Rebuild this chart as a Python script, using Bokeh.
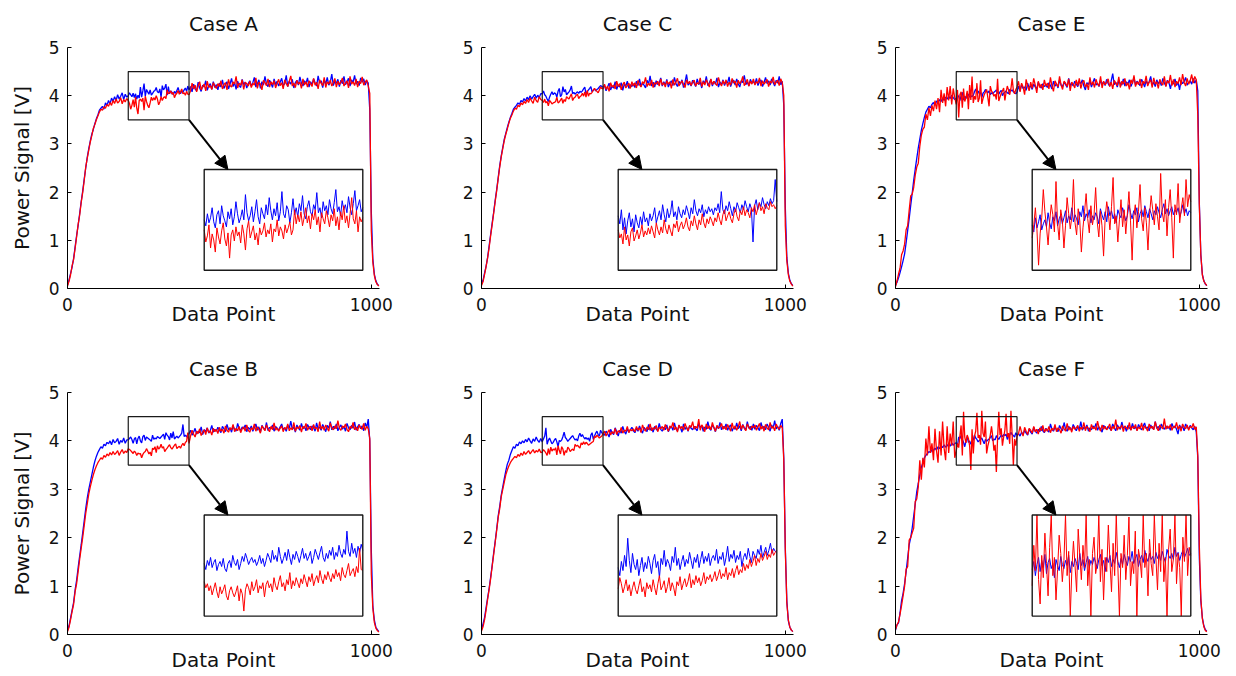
import numpy as np
from bokeh.plotting import figure
from bokeh.models import Range1d, FixedTicker, Arrow, NormalHead, BoxAnnotation
from bokeh.layouts import column, row
from bokeh.embed import file_html
from bokeh.resources import INLINE

# ---------------- data ----------------
# sample index: every 5th point, every 2nd point inside the zoomed window 200..400
data_point = list(range(0, 200, 5)) + list(range(200, 401, 2)) + list(range(405, 1026, 5))
x_ticks = [0, 1000]
y_ticks = [0, 1, 2, 3, 4, 5]
titles = ["Case A", "Case C", "Case E", "Case B", "Case D", "Case F"]

# ---- Case A ----
A_blue = [0.07, 0.18, 0.31, 0.44, 0.62, 0.86, 1.1, 1.31, 1.55, 1.8, 2.02, 2.27, 2.5, 2.72, 2.9, 3.06, 3.2, 3.3, 3.42, 3.52,
          3.6, 3.7, 3.74, 3.78, 3.72, 3.85, 3.8, 3.9, 3.83, 3.95, 3.88, 3.98, 3.9, 4.02, 3.93, 3.99, 4.06, 3.92, 4.03, 3.97,
          4.0, 3.94, 4.06, 3.97, 4.02, 4.12, 3.98, 3.92, 4.05, 4.09, 3.96, 4.14, 4.04, 3.99, 3.93, 4.08, 4.01, 4.11, 3.95, 4.03,
          4.18, 4.06, 3.97, 4.02, 4.1, 4.0, 4.25, 4.07, 3.99, 4.04, 4.13, 3.98, 4.08, 4.2, 4.03, 3.96, 4.12, 4.06, 4.01, 4.15,
          4.05, 4.22, 4.09, 4.0, 4.11, 4.04, 4.17, 3.99, 4.08, 4.28, 4.06, 4.02, 4.14, 4.1, 3.97, 4.07, 4.21, 4.05, 4.12, 4.03,
          4.16, 4.09, 4.24, 4.06, 4.01, 4.13, 4.19, 4.08, 4.04, 4.15, 4.1, 4.27, 4.07, 4.12, 4.02, 4.18, 4.09, 4.14, 4.05, 4.2,
          4.11, 4.06, 4.17, 4.3, 4.08, 4.13, 4.04, 4.19, 4.1, 4.15, 4.07, 4.23, 4.12, 4.05, 4.16, 4.29, 4.09, 4.14, 4.2, 4.08,
          4.12,
          4.19, 4.08, 4.24, 4.14, 4.1, 4.28, 4.16, 4.09, 4.22, 4.18, 4.31, 4.11, 4.2, 4.25, 4.13, 4.29, 4.17, 4.23, 4.12,
          4.26, 4.18, 4.33, 4.15, 4.22, 4.29, 4.14, 4.24, 4.36, 4.19, 4.27, 4.13, 4.3, 4.21, 4.17, 4.34, 4.23, 4.28, 4.16, 4.25,
          4.31, 4.2, 4.27, 4.38, 4.18, 4.25, 4.33, 4.15, 4.29, 4.22, 4.4, 4.24, 4.19, 4.32, 4.26, 4.17, 4.35, 4.23, 4.3, 4.2,
          4.28, 4.36, 4.21, 4.25, 4.42, 4.19, 4.3, 4.24, 4.34, 4.16, 4.27, 4.32, 4.22, 4.39, 4.26, 4.2, 4.31, 4.25, 4.37, 4.18,
          4.29, 4.23, 4.35, 4.27, 4.2, 4.41, 4.26, 4.31, 4.17, 4.33, 4.24, 4.38, 4.22, 4.28, 4.45, 4.21, 4.3, 4.26, 4.34, 4.19,
          4.32, 4.25, 4.4, 4.23, 4.29, 4.36, 4.2, 4.33, 4.27, 4.42, 4.24, 4.3, 4.21, 4.37, 4.28, 4.35, 4.22, 4.31, 4.26, 3.7,
          1.6, 0.62, 0.3, 0.16, 0.09, 0.06]
A_red = [0.05, 0.15, 0.28, 0.47, 0.6, 0.83, 1.07, 1.33, 1.52, 1.78, 1.99, 2.24, 2.52, 2.7, 2.87, 3.04, 3.17, 3.32, 3.4, 3.5,
         3.58, 3.66, 3.72, 3.7, 3.77, 3.74, 3.82, 3.78, 3.86, 3.8, 3.9, 3.84, 3.93, 3.85, 3.88, 3.96, 3.83, 3.92, 3.87, 3.94,
         3.9, 3.78, 3.84, 3.95, 3.72, 3.86, 3.8, 3.68, 3.92, 3.83, 3.76, 3.89, 3.97, 3.81, 3.74, 3.87, 3.62, 3.85, 3.9, 3.79,
         3.93, 3.84, 3.88, 3.77, 3.95, 3.86, 3.7, 3.91, 3.99, 3.82, 3.88, 3.94, 3.8, 3.87, 3.75, 3.92, 3.85, 3.89, 3.97, 3.83,
         3.9, 3.86, 3.96, 3.78, 3.91, 3.88, 4.0, 3.84, 3.93, 3.89, 3.81, 3.95, 3.87, 3.92, 3.98, 3.85, 3.9, 4.1, 3.96, 4.05,
         3.98, 4.08, 3.94, 4.02, 4.12, 3.97, 4.04, 3.91, 4.06, 4.0, 4.1, 3.95, 4.03, 3.88, 4.07, 4.01, 3.96, 4.09, 4.02, 3.93,
         4.05, 3.99, 4.11, 3.94, 4.03, 3.9, 4.08, 4.0, 4.14, 3.97, 4.04, 3.92, 4.06, 4.22, 4.01, 3.96, 4.09, 3.88, 4.03, 3.98,
         4.02,
         4.1, 4.26, 4.14, 4.22, 4.08, 4.2, 4.29, 4.12, 4.19, 4.24, 4.1, 4.3, 4.17, 4.21, 4.13, 4.27, 4.2, 4.15, 4.25,
         4.19, 4.31, 4.14, 4.23, 4.27, 4.12, 4.34, 4.21, 4.18, 4.29, 4.24, 4.4, 4.16, 4.26, 4.22, 4.33, 4.13, 4.28, 4.25, 4.2,
         4.3, 4.17, 4.26, 4.22, 4.37, 4.15, 4.28, 4.24, 4.12, 4.32, 4.27, 4.21, 4.35, 4.18, 4.29, 4.23, 4.31, 4.16, 4.26, 4.34,
         4.21, 4.27, 4.14, 4.33, 4.25, 4.19, 4.3, 4.41, 4.2, 4.26, 4.17, 4.32, 4.24, 4.28, 4.15, 4.35, 4.22, 4.29, 4.18, 4.31,
         4.25, 4.19, 4.36, 4.22, 4.28, 4.14, 4.33, 4.26, 4.21, 4.38, 4.17, 4.29, 4.24, 4.32, 4.2, 4.27, 4.36, 4.18, 4.3, 4.23,
         4.28, 4.37, 4.2, 4.26, 4.31, 4.16, 4.4, 4.24, 4.29, 4.21, 4.35, 4.18, 4.3, 4.25, 4.39, 4.22, 4.28, 4.33, 4.2, 4.05,
         1.2, 0.55, 0.27, 0.14, 0.08, 0.05]

# ---- Case C ----
C_blue = [0.09, 0.17, 0.32, 0.46, 0.64, 0.88, 1.12, 1.35, 1.58, 1.83, 2.05, 2.3, 2.55, 2.75, 2.93, 3.1, 3.22, 3.34, 3.45, 3.55,
          3.63, 3.72, 3.76, 3.8, 3.85, 3.82, 3.9, 3.87, 3.94, 3.89, 3.97, 3.92, 4.0, 3.93, 3.98, 4.03, 3.95, 4.01, 3.96, 4.04,
          4.04, 3.96, 4.1, 3.9, 4.02, 3.86, 3.99, 4.07, 3.93, 4.01, 3.88, 4.05, 3.97, 3.92, 4.03, 3.95, 4.08, 3.98, 4.02, 3.94,
          4.06, 3.99, 4.04, 4.12, 3.97, 4.03, 4.09, 4.0, 4.15, 4.05, 3.98, 4.11, 4.02, 4.07, 4.19, 4.03, 4.08, 4.0, 4.13, 4.06,
          4.02, 4.1, 4.05, 4.14, 4.08, 4.01, 4.12, 4.06, 4.2, 4.09, 4.04, 4.11, 4.07, 4.15, 4.03, 4.1, 4.06, 4.13, 4.08, 4.11,
          4.05, 4.12, 4.09, 4.16, 4.07, 4.28, 4.1, 4.06, 4.14, 4.09, 4.18, 4.11, 4.04, 4.13, 4.08, 4.17, 4.12, 4.07, 4.15, 4.1,
          4.19, 4.13, 4.08, 4.16, 4.11, 3.78, 4.14, 4.2, 4.1, 4.17, 4.13, 4.22, 4.15, 4.11, 4.18, 4.14, 4.21, 4.16, 4.19, 4.4,
          4.18,
          4.21, 4.1, 4.18, 4.26, 4.12, 4.2, 4.16, 4.29, 4.13, 4.22, 4.18, 4.27, 4.11, 4.24, 4.2, 4.3, 4.15, 4.23, 4.19,
          4.25, 4.17, 4.3, 4.21, 4.35, 4.19, 4.26, 4.22, 4.16, 4.32, 4.24, 4.41, 4.2, 4.28, 4.18, 4.31, 4.23, 4.27, 4.37, 4.2,
          4.29, 4.22, 4.34, 4.18, 4.26, 4.31, 4.21, 4.38, 4.25, 4.19, 4.3, 4.24, 4.33, 4.17, 4.28, 4.44, 4.22, 4.27, 4.2, 4.32,
          4.26, 4.19, 4.35, 4.23, 4.29, 4.16, 4.31, 4.25, 4.4, 4.21, 4.27, 4.34, 4.2, 4.3, 4.24, 4.37, 4.18, 4.28, 4.23, 4.33,
          4.21, 4.3, 4.26, 4.39, 4.19, 4.28, 4.32, 4.22, 4.35, 4.25, 4.18, 4.31, 4.27, 4.42, 4.23, 4.29, 4.2, 4.34, 4.26, 4.3,
          4.24, 4.36, 4.21, 4.29, 4.33, 4.19, 4.27, 4.38, 4.25, 4.31, 4.22, 4.35, 4.28, 4.2, 4.32, 4.26, 4.4, 4.23, 4.3, 3.8,
          1.7, 0.65, 0.32, 0.17, 0.1, 0.06]
C_red = [0.06, 0.14, 0.29, 0.45, 0.63, 0.84, 1.09, 1.32, 1.56, 1.8, 2.03, 2.28, 2.52, 2.73, 2.9, 3.07, 3.2, 3.31, 3.43, 3.53,
         3.6, 3.68, 3.74, 3.72, 3.8, 3.77, 3.85, 3.81, 3.88, 3.84, 3.92, 3.86, 3.95, 3.89, 3.84, 3.97, 3.9, 3.86, 3.98, 3.92,
         3.9, 3.82, 3.86, 3.76, 3.93, 3.8, 3.85, 3.74, 3.88, 3.92, 3.79, 3.84, 3.9, 3.81, 3.87, 3.95, 3.83, 3.89, 3.85, 3.92,
         3.86, 3.94, 3.88, 3.82, 3.97, 3.9, 3.85, 3.93, 3.87, 4.0, 3.91, 3.86, 3.95, 3.89, 3.84, 3.96, 3.92, 3.99, 3.88, 3.94,
         3.98, 3.91, 3.95, 4.02, 3.93, 3.89, 3.99, 3.94, 4.04, 3.96, 3.9, 4.0, 3.95, 4.06, 3.97, 3.92, 4.01, 3.96, 4.03, 3.99,
         3.94, 4.02, 3.98, 4.07, 4.0, 3.95, 4.05, 4.1, 3.99, 4.04, 4.08, 4.01, 3.97, 4.06, 4.11, 4.03, 3.99, 4.09, 4.05, 4.13,
         4.04, 4.1, 4.07, 4.02, 4.12, 4.08, 4.15, 4.05, 4.11, 4.17, 4.09, 4.13, 4.06, 4.16, 4.12, 4.1, 4.18, 4.13, 4.15, 4.11,
         4.14,
         4.24, 4.13, 4.2, 4.09, 4.27, 4.18, 4.22, 4.14, 4.3, 4.19, 4.25, 4.12, 4.23, 4.28, 4.16, 4.21, 4.26, 4.15, 4.29,
         4.2, 4.27, 4.16, 4.32, 4.23, 4.18, 4.29, 4.25, 4.38, 4.19, 4.26, 4.21, 4.33, 4.17, 4.27, 4.24, 4.3, 4.2, 4.35, 4.22,
         4.27, 4.18, 4.31, 4.24, 4.29, 4.15, 4.34, 4.22, 4.28, 4.36, 4.2, 4.26, 4.31, 4.23, 4.17, 4.33, 4.25, 4.3, 4.21, 4.28,
         4.32, 4.2, 4.27, 4.24, 4.37, 4.19, 4.29, 4.22, 4.33, 4.26, 4.18, 4.35, 4.23, 4.3, 4.25, 4.21, 4.38, 4.27, 4.2, 4.31,
         4.24, 4.33, 4.19, 4.28, 4.22, 4.36, 4.26, 4.3, 4.17, 4.32, 4.25, 4.29, 4.4, 4.21, 4.27, 4.34, 4.2, 4.3, 4.24, 4.35,
         4.22, 4.29, 4.26, 4.37, 4.2, 4.31, 4.24, 4.28, 4.34, 4.19, 4.3, 4.26, 4.39, 4.23, 4.28, 4.32, 4.21, 4.35, 4.27, 4.0,
         1.3, 0.58, 0.29, 0.15, 0.09, 0.05]

# ---- Case E ----
E_blue = [0.06, 0.13, 0.22, 0.33, 0.45, 0.58, 0.72, 0.95, 1.2, 1.45, 1.72, 1.98, 2.25, 2.48, 2.7, 2.92, 3.1, 3.28, 3.42, 3.55,
          3.66, 3.72, 3.78, 3.75, 3.82, 3.86, 3.8, 3.89, 3.85, 3.92, 3.88, 3.95, 3.9, 3.97, 3.93, 3.99, 3.94, 4.01, 3.96, 3.92,
          3.95, 3.88, 4.02, 3.92, 3.98, 4.05, 3.9, 3.96, 4.0, 3.93, 4.07, 3.97, 3.91, 4.03, 3.99, 4.08, 3.94, 4.01, 4.05, 3.96,
          4.02, 4.09, 3.97, 4.04, 4.0, 4.12, 3.98, 4.05, 4.01, 3.95, 4.08, 4.03, 4.14, 3.99, 4.06, 4.02, 4.1, 3.97, 4.04, 4.0,
          4.07, 4.03, 3.96, 4.11, 4.05, 4.0, 4.08, 3.98, 4.13, 4.04, 4.09, 4.01, 4.06, 3.97, 4.1, 4.05, 4.02, 4.12, 4.06, 3.99,
          4.04, 4.15, 4.07, 4.01, 4.09, 4.05, 4.12, 3.98, 4.06, 4.1, 4.03, 4.14, 4.08, 4.02, 4.11, 4.06, 4.0, 4.09, 4.05, 4.13,
          4.07, 4.02, 4.1, 4.16, 4.06, 4.11, 4.04, 4.09, 4.13, 4.05, 4.1, 4.07, 4.12, 4.03, 4.08, 4.15, 4.06, 4.11, 4.04, 4.09,
          4.07,
          4.2, 4.1, 4.23, 4.15, 4.18, 4.11, 4.26, 4.16, 4.21, 4.13, 4.24, 4.18, 4.14, 4.28, 4.2, 4.16, 4.25, 4.19, 4.22,
          4.17, 4.27, 4.21, 4.14, 4.3, 4.2, 4.25, 4.16, 4.33, 4.22, 4.19, 4.28, 4.23, 4.17, 4.36, 4.21, 4.26, 4.2, 4.3, 4.24,
          4.19, 4.29, 4.25, 4.33, 4.2, 4.12, 4.27, 4.23, 4.31, 4.18, 4.28, 4.36, 4.22, 4.26, 4.19, 4.32, 4.24, 4.29, 4.21, 4.34,
          4.25, 4.2, 4.3, 4.46, 4.23, 4.28, 4.18, 4.31, 4.26, 4.22, 4.35, 4.2, 4.29, 4.24, 4.33, 4.19, 4.27, 4.38, 4.22, 4.3,
          4.26, 4.21, 4.34, 4.27, 4.18, 4.31, 4.24, 4.29, 4.4, 4.22, 4.28, 4.19, 4.33, 4.25, 4.3, 4.21, 4.36, 4.26, 4.2, 4.32,
          4.27, 4.14, 4.3, 4.24, 4.35, 4.21, 4.28, 4.12, 4.32, 4.25, 4.29, 4.38, 4.22, 4.27, 4.31, 4.24, 4.36, 4.26, 4.33, 4.1,
          1.8, 0.7, 0.3, 0.16, 0.09, 0.06]
E_red = [0.04, 0.16, 0.3, 0.42, 0.7, 0.78, 0.92, 1.22, 1.3, 1.62, 1.92, 1.96, 2.1, 2.35, 2.52, 2.6, 2.95, 3.18, 3.3, 3.35,
         3.62, 3.5, 3.75, 3.58, 3.8, 3.68, 3.9, 3.72, 3.95, 3.66, 4.12, 3.85, 4.05, 3.78, 4.18, 3.9, 4.2, 3.82, 4.15, 3.96,
         3.82, 3.95, 4.12, 3.9, 3.55, 3.86, 4.02, 4.3, 4.08, 3.93, 3.75, 3.98, 4.15, 4.05, 3.88, 4.38, 3.96, 3.8, 4.1, 4.0,
         3.72, 3.94, 4.22, 4.06, 3.91, 4.03, 4.4, 3.97, 3.85, 4.11, 3.99, 3.68, 3.92, 4.08, 4.26, 4.01, 3.87, 4.14, 3.95, 4.05,
         4.32, 3.98, 3.83, 4.09, 3.94, 3.64, 4.02, 4.18, 4.07, 3.9, 4.13, 4.42, 3.96, 4.04, 3.78, 4.0, 4.2, 3.93, 4.1, 3.86,
         4.06, 4.28, 3.99, 3.6, 4.03, 4.15, 3.92, 4.08, 4.35, 4.01, 3.89, 4.12, 3.97, 3.7, 4.05, 4.24, 4.1, 3.95, 4.16, 4.03,
         3.9, 4.46, 4.07, 3.98, 4.2, 3.84, 4.12, 4.3, 4.02, 3.62, 4.15, 4.05, 4.36, 3.97, 4.11, 4.22, 4.04, 4.4, 4.13, 4.25,
         4.18,
         4.3, 4.08, 4.26, 4.18, 4.02, 4.34, 4.2, 4.1, 4.28, 4.15, 4.36, 4.22, 4.06, 4.3, 4.17, 4.24, 4.12, 4.33, 4.2,
         4.26, 4.14, 4.38, 4.2, 4.09, 4.31, 4.24, 4.18, 4.4, 4.22, 4.13, 4.3, 4.26, 4.19, 4.35, 4.1, 4.28, 4.24, 4.16, 4.33,
         4.21, 4.36, 4.15, 4.27, 4.32, 4.18, 4.25, 4.12, 4.38, 4.22, 4.29, 4.17, 4.34, 4.24, 4.2, 4.4, 4.16, 4.3, 4.23, 4.27,
         4.35, 4.19, 4.28, 4.14, 4.32, 4.26, 4.21, 4.39, 4.17, 4.3, 4.24, 4.36, 4.2, 4.27, 4.13, 4.33, 4.25, 4.42, 4.19, 4.29,
         4.23, 4.35, 4.16, 4.3, 4.25, 4.41, 4.2, 4.28, 4.33, 4.17, 4.37, 4.24, 4.29, 4.15, 4.34, 4.26, 4.22, 4.4, 4.19, 4.31,
         4.26, 4.43, 4.21, 4.34, 4.18, 4.3, 4.25, 4.38, 4.22, 4.45, 4.28, 4.2, 4.36, 4.24, 4.31, 4.44, 4.26, 4.4, 4.33, 3.6,
         1.75, 0.7, 0.28, 0.15, 0.1, 0.06]

# ---- Case B ----
B_blue = [0.08, 0.18, 0.34, 0.5, 0.66, 0.92, 1.12, 1.38, 1.62, 1.85, 2.1, 2.35, 2.6, 2.82, 3.0, 3.15, 3.3, 3.45, 3.58, 3.68,
          3.76, 3.82, 3.88, 3.85, 3.93, 3.9, 3.97, 3.94, 4.0, 3.92, 4.03, 3.96, 3.99, 4.05, 3.93, 4.01, 3.97, 4.06, 3.95, 4.02,
          4.02, 3.96, 4.05, 4.0, 4.08, 3.98, 4.03, 4.06, 3.95, 4.01, 4.04, 3.99, 4.07, 3.97, 3.94, 4.02, 4.05, 3.98, 4.1, 4.03,
          4.0, 4.06, 3.96, 4.02, 4.09, 4.04, 4.12, 4.07, 4.01, 4.05, 4.08, 4.03, 4.06, 4.0, 4.04, 4.1, 4.02, 4.07, 3.99, 4.05,
          4.12, 4.08, 4.03, 4.15, 4.06, 4.1, 4.04, 4.18, 4.09, 4.02, 4.07, 4.13, 4.05, 4.16, 4.08, 4.01, 4.11, 4.06, 4.14, 4.09,
          4.03, 4.1, 4.17, 4.07, 4.12, 4.05, 4.09, 4.14, 4.02, 4.08, 4.16, 4.11, 4.06, 4.13, 4.19, 4.08, 4.04, 4.12, 4.07, 4.15,
          4.1, 4.18, 4.06, 4.13, 4.09, 4.2, 4.12, 4.08, 4.16, 4.11, 4.34, 4.14, 4.09, 4.22, 4.12, 4.17, 4.08, 4.19, 4.13, 4.21,
          4.15,
          4.22, 4.12, 4.18, 4.26, 4.14, 4.2, 4.17, 4.29, 4.13, 4.23, 4.19, 4.27, 4.16, 4.21, 4.32, 4.18, 4.24, 4.2, 4.28,
          4.22, 4.17, 4.3, 4.25, 4.19, 4.34, 4.23, 4.27, 4.18, 4.31, 4.24, 4.2, 4.36, 4.26, 4.21, 4.29, 4.25, 4.33, 4.19, 4.28,
          4.24, 4.31, 4.2, 4.27, 4.35, 4.22, 4.29, 4.18, 4.32, 4.26, 4.23, 4.38, 4.21, 4.28, 4.25, 4.33, 4.2, 4.3, 4.26, 4.22,
          4.29, 4.35, 4.23, 4.27, 4.2, 4.32, 4.26, 4.41, 4.24, 4.29, 4.18, 4.33, 4.27, 4.22, 4.36, 4.25, 4.3, 4.21, 4.34, 4.28,
          4.23, 4.31, 4.27, 4.2, 4.37, 4.25, 4.29, 4.22, 4.34, 4.27, 4.19, 4.32, 4.26, 4.4, 4.23, 4.3, 4.25, 4.35, 4.21, 4.28,
          4.33, 4.24, 4.3, 4.2, 4.36, 4.27, 4.23, 4.32, 4.26, 4.39, 4.22, 4.29, 4.34, 4.25, 4.31, 4.21, 4.37, 4.28, 4.45, 4.0,
          1.75, 0.6, 0.3, 0.15, 0.1, 0.06]
B_red = [0.06, 0.15, 0.3, 0.47, 0.62, 0.88, 1.05, 1.3, 1.55, 1.78, 2.0, 2.25, 2.5, 2.7, 2.9, 3.05, 3.18, 3.3, 3.4, 3.48,
         3.55, 3.6, 3.65, 3.62, 3.7, 3.66, 3.73, 3.69, 3.76, 3.71, 3.78, 3.72, 3.75, 3.8, 3.7, 3.77, 3.82, 3.74, 3.79, 3.76,
         3.84, 3.78, 3.82, 3.75, 3.8, 3.71, 3.77, 3.83, 3.74, 3.68, 3.79, 3.72, 3.76, 3.81, 3.7, 3.66, 3.75, 3.79, 3.73, 3.69,
         3.74, 3.8, 3.65, 3.77, 3.72, 3.55, 3.76, 3.82, 3.78, 3.71, 3.84, 3.75, 3.79, 3.86, 3.73, 3.8, 3.77, 3.83, 3.69, 3.81,
         3.85, 3.78, 3.82, 3.74, 3.88, 3.8, 3.76, 3.84, 3.9, 3.79, 3.83, 3.75, 3.86, 3.81, 3.93, 3.77, 3.85, 3.8, 3.88, 3.83,
         3.78, 3.87, 3.82, 3.91, 3.85, 3.79, 3.89, 3.84, 3.92, 3.8, 3.86, 3.9, 3.83, 3.95, 3.87, 3.82, 3.91, 3.86, 3.94, 3.88,
         3.84, 3.92, 3.87, 3.96, 3.89, 3.93, 3.85, 3.98, 3.91, 3.88, 3.95, 4.02, 3.9, 3.94, 3.97, 3.89, 3.99, 3.93, 4.17, 3.96,
         3.95,
         4.1, 4.22, 4.14, 4.08, 4.2, 4.15, 4.25, 4.11, 4.18, 4.23, 4.13, 4.27, 4.17, 4.21, 4.12, 4.26, 4.19, 4.24, 4.15,
         4.28, 4.2, 4.24, 4.16, 4.31, 4.22, 4.18, 4.27, 4.23, 4.34, 4.19, 4.26, 4.21, 4.3, 4.17, 4.25, 4.29, 4.2, 4.33, 4.22,
         4.18, 4.27, 4.23, 4.35, 4.2, 4.29, 4.24, 4.16, 4.31, 4.26, 4.21, 4.33, 4.25, 4.19, 4.3, 4.23, 4.37, 4.22, 4.27, 4.2,
         4.26, 4.31, 4.19, 4.28, 4.24, 4.35, 4.21, 4.27, 4.23, 4.38, 4.2, 4.29, 4.25, 4.32, 4.18, 4.3, 4.26, 4.36, 4.22, 4.28,
         4.3, 4.21, 4.34, 4.25, 4.28, 4.19, 4.4, 4.24, 4.3, 4.22, 4.33, 4.26, 4.2, 4.37, 4.27, 4.23, 4.31, 4.25, 4.42, 4.26,
         4.22, 4.31, 4.27, 4.35, 4.24, 4.19, 4.3, 4.26, 4.38, 4.23, 4.29, 4.21, 4.33, 4.27, 4.24, 4.36, 4.22, 4.3, 4.25, 4.05,
         1.25, 0.55, 0.25, 0.13, 0.08, 0.05]

# ---- Case D ----
D_blue = [0.1, 0.22, 0.35, 0.55, 0.75, 0.95, 1.18, 1.42, 1.68, 1.92, 2.18, 2.45, 2.65, 2.88, 3.05, 3.22, 3.38, 3.52, 3.6, 3.72,
          3.8, 3.88, 3.85, 3.93, 3.9, 3.98, 3.94, 4.0, 3.96, 4.03, 3.98, 4.06, 4.0, 3.95, 4.04, 3.99, 4.08, 4.01, 3.97, 4.05,
          3.98, 3.9, 4.04, 3.95, 4.1, 3.99, 4.27, 4.05, 3.93, 4.12, 4.01, 3.96, 4.06, 3.9, 4.0, 4.08, 3.94, 4.03, 3.97, 4.09,
          4.02, 3.92, 4.05, 4.11, 3.98, 4.04, 3.88, 4.07, 4.01, 4.15, 3.99, 4.06, 4.02, 3.95, 4.09, 4.03, 4.18, 4.0, 4.07, 3.96,
          4.04, 4.1, 3.99, 4.06, 4.02, 4.13, 4.05, 3.97, 4.08, 4.03, 4.11, 3.98, 4.06, 4.14, 4.02, 4.09, 4.04, 4.12, 4.0, 4.07,
          4.1, 4.05, 4.16, 4.02, 4.09, 4.06, 4.13, 4.0, 4.08, 4.19, 4.04, 4.11, 4.07, 4.15, 4.03, 4.1, 4.06, 4.14, 3.99, 4.08,
          4.12, 4.06, 4.17, 4.09, 4.03, 4.14, 4.1, 4.07, 4.16, 4.11, 4.2, 4.08, 4.13, 4.18, 4.1, 4.15, 4.22, 4.12, 4.17, 4.14,
          4.13,
          4.12, 4.2, 4.15, 4.08, 4.24, 4.17, 4.13, 4.27, 4.19, 4.1, 4.22, 4.16, 4.3, 4.2, 4.14, 4.25, 4.18, 4.23, 4.28,
          4.21, 4.17, 4.26, 4.2, 4.31, 4.23, 4.16, 4.28, 4.24, 4.19, 4.34, 4.22, 4.27, 4.18, 4.3, 4.25, 4.21, 4.36, 4.24, 4.2,
          4.28, 4.23, 4.33, 4.19, 4.26, 4.3, 4.22, 4.37, 4.25, 4.21, 4.32, 4.27, 4.18, 4.35, 4.24, 4.29, 4.2, 4.31, 4.26, 4.23,
          4.3, 4.25, 4.21, 4.36, 4.27, 4.32, 4.2, 4.29, 4.24, 4.4, 4.26, 4.22, 4.33, 4.28, 4.19, 4.31, 4.25, 4.38, 4.23, 4.3,
          4.26, 4.35, 4.22, 4.29, 4.33, 4.2, 4.28, 4.24, 4.37, 4.25, 4.31, 4.21, 4.34, 4.27, 4.23, 4.4, 4.26, 4.3, 4.22, 4.35,
          4.24, 4.32, 4.27, 4.21, 4.38, 4.26, 4.3, 4.23, 4.35, 4.28, 4.2, 4.33, 4.26, 4.42, 4.25, 4.3, 4.22, 4.36, 4.45, 3.65,
          1.8, 0.7, 0.28, 0.15, 0.09, 0.06]
D_red = [0.07, 0.16, 0.3, 0.5, 0.72, 0.92, 1.15, 1.4, 1.65, 1.9, 2.15, 2.42, 2.6, 2.85, 3.0, 3.15, 3.3, 3.4, 3.48, 3.55,
         3.6, 3.64, 3.68, 3.65, 3.72, 3.68, 3.75, 3.7, 3.78, 3.72, 3.76, 3.8, 3.73, 3.78, 3.82, 3.75, 3.8, 3.77, 3.83, 3.76,
         3.77, 3.88, 3.82, 3.73, 3.79, 3.86, 3.75, 3.81, 3.7, 3.78, 3.84, 3.76, 3.72, 3.8, 3.87, 3.74, 3.79, 3.69, 3.83, 3.77,
         3.81, 3.74, 3.86, 3.78, 3.71, 3.82, 3.9, 3.76, 3.8, 3.85, 3.73, 3.79, 3.88, 3.75, 3.83, 3.78, 3.7, 3.84, 3.8, 3.89,
         3.76, 3.82, 3.87, 3.79, 3.84, 3.92, 3.78, 3.86, 3.81, 3.9, 3.83, 3.88, 3.8, 3.85, 3.93, 3.82, 3.89, 3.86, 3.91, 3.84,
         3.88, 3.94, 3.85, 3.9, 3.96, 3.87, 3.92, 3.89, 3.98, 3.86, 3.93, 3.9, 3.97, 3.88, 3.95, 4.0, 3.91, 3.96, 3.93, 4.02,
         3.95, 4.01, 3.97, 4.06, 3.99, 4.04, 4.1, 4.0, 4.07, 4.03, 4.12, 4.05, 4.09, 4.14, 4.06, 4.11, 4.08, 4.16, 4.1, 4.13,
         4.15,
         4.2, 4.1, 4.17, 4.23, 4.12, 4.19, 4.15, 4.26, 4.13, 4.21, 4.18, 4.28, 4.16, 4.22, 4.2, 4.3, 4.17, 4.24, 4.21,
         4.25, 4.19, 4.3, 4.22, 4.27, 4.17, 4.33, 4.24, 4.2, 4.29, 4.23, 4.35, 4.21, 4.27, 4.24, 4.32, 4.19, 4.28, 4.25, 4.3,
         4.22, 4.34, 4.26, 4.2, 4.31, 4.27, 4.38, 4.23, 4.29, 4.18, 4.33, 4.25, 4.3, 4.22, 4.36, 4.27, 4.21, 4.32, 4.28, 4.4,
         4.24, 4.3, 4.26, 4.45, 4.22, 4.33, 4.28, 4.19, 4.35, 4.25, 4.31, 4.23, 4.38, 4.27, 4.2, 4.32, 4.26, 4.29, 4.36, 4.24,
         4.3, 4.23, 4.34, 4.27, 4.2, 4.37, 4.25, 4.31, 4.22, 4.29, 4.4, 4.24, 4.33, 4.26, 4.21, 4.35, 4.28, 4.23, 4.31, 4.27,
         4.33, 4.22, 4.29, 4.36, 4.24, 4.31, 4.2, 4.34, 4.27, 4.23, 4.38, 4.26, 4.3, 4.21, 4.35, 4.28, 4.24, 4.32, 4.27, 3.6,
         1.75, 0.65, 0.3, 0.15, 0.09, 0.06]

# ---- Case F ----
F_blue = [0.09, 0.2, 0.24, 0.45, 0.7, 0.85, 1.05, 1.3, 1.58, 1.85, 2.0, 2.2, 2.45, 2.7, 2.95, 3.12, 3.3, 3.45, 3.55, 3.65,
          3.7, 3.74, 3.78, 3.76, 3.82, 3.8, 3.85, 3.81, 3.88, 3.84, 3.9, 3.86, 3.92, 3.87, 3.9, 3.94, 3.89, 3.96, 3.91, 3.95,
          3.96, 4.04, 3.9, 4.01, 4.08, 3.94, 4.05, 3.98, 4.11, 3.92, 4.03, 4.07, 3.97, 4.02, 3.88, 4.06, 4.0, 3.95, 4.09, 4.01,
          3.97, 4.05, 4.0, 4.1, 3.93, 4.04, 3.99, 4.07, 4.02, 3.96, 4.12, 4.0, 4.06, 3.95, 4.03, 4.09, 3.98, 4.05, 4.01, 4.08,
          4.03, 3.97, 4.06, 4.11, 4.0, 4.05, 3.94, 4.08, 4.03, 4.1, 3.99, 4.06, 4.02, 4.13, 4.04, 3.98, 4.07, 4.01, 4.11, 4.05,
          4.0, 4.09, 4.04, 4.14, 4.02, 4.07, 4.11, 3.99, 4.06, 4.1, 4.03, 4.15, 4.08, 4.04, 4.12, 4.06, 4.09, 4.02, 4.13, 4.07,
          4.11, 4.05, 4.14, 4.08, 4.03, 4.16, 4.1, 4.07, 4.12, 4.06, 4.18, 4.09, 4.13, 4.05, 4.11, 4.15, 4.08, 4.12, 4.17, 4.1,
          4.12,
          4.15, 4.1, 4.18, 4.13, 4.22, 4.16, 4.12, 4.25, 4.18, 4.14, 4.28, 4.2, 4.16, 4.24, 4.19, 4.3, 4.21, 4.17, 4.26,
          4.22, 4.18, 4.35, 4.24, 4.2, 4.29, 4.23, 4.19, 4.32, 4.25, 4.21, 4.38, 4.24, 4.2, 4.3, 4.26, 4.22, 4.34, 4.27, 4.21,
          4.29, 4.24, 4.4, 4.22, 4.28, 4.25, 4.33, 4.2, 4.27, 4.23, 4.31, 4.26, 4.36, 4.22, 4.29, 4.25, 4.18, 4.32, 4.27, 4.24,
          4.3, 4.26, 4.22, 4.35, 4.27, 4.21, 4.33, 4.28, 4.24, 4.39, 4.26, 4.3, 4.2, 4.32, 4.27, 4.23, 4.36, 4.25, 4.29, 4.22,
          4.34, 4.27, 4.23, 4.3, 4.37, 4.25, 4.29, 4.21, 4.33, 4.27, 4.24, 4.4, 4.26, 4.3, 4.22, 4.35, 4.28, 4.24, 4.31, 4.26,
          4.29, 4.22, 4.36, 4.27, 4.31, 4.24, 4.14, 4.33, 4.26, 4.3, 4.21, 4.35, 4.28, 4.25, 4.32, 4.27, 4.23, 4.3, 4.19, 3.65,
          1.6, 0.7, 0.35, 0.18, 0.1, 0.07]
F_red = [0.1, 0.2, 0.26, 0.42, 0.6, 0.8, 1.0, 1.35, 1.4, 1.95, 2.0, 2.1, 2.2, 2.75, 2.8, 3.05, 3.6, 3.2, 3.65, 3.45,
         4.05, 3.7, 4.3, 3.75, 3.95, 3.6, 4.25, 3.8, 3.55, 4.2, 3.7, 4.4, 3.85, 3.6, 4.3, 3.75, 4.15, 3.9, 4.4, 3.65,
         3.8, 4.2, 3.95, 4.55, 3.86, 3.62, 4.1, 3.88, 4.32, 4.02, 3.7, 4.18, 4.6, 3.9, 4.08, 3.66, 3.96, 4.3, 4.12, 3.84,
         4.05, 4.56, 3.9, 4.14, 3.4, 3.96, 4.24, 4.0, 3.74, 4.36, 4.1, 3.86, 4.2, 3.98, 4.58, 3.8, 4.06, 3.42, 4.12, 4.28,
         3.92, 4.02, 4.62, 3.84, 4.16, 3.66, 4.08, 3.94, 4.4, 4.05, 3.74, 4.22, 3.9, 4.56, 4.0, 3.38, 4.12, 3.98, 4.3, 3.86,
         4.1, 4.48, 3.8, 4.04, 3.92, 4.34, 3.36, 4.16, 4.06, 3.88, 4.6, 3.98, 4.12, 3.7, 4.26, 4.02, 3.9, 4.55, 4.08, 3.76,
         4.22, 3.94, 4.56, 3.84, 4.08, 3.46, 4.16, 4.36, 3.94, 4.06, 4.62, 3.82, 4.12, 3.98, 3.5, 4.28, 4.04, 4.58, 3.9, 4.18,
         4.1,
         4.15, 4.3, 4.18, 4.1, 4.28, 4.2, 4.13, 4.26, 4.22, 4.16, 4.3, 4.19, 4.24, 4.14, 4.27, 4.21, 4.32, 4.18, 4.25,
         4.2, 4.3, 4.17, 4.26, 4.22, 4.34, 4.19, 4.27, 4.23, 4.16, 4.31, 4.25, 4.2, 4.36, 4.22, 4.28, 4.18, 4.3, 4.24, 4.27,
         4.32, 4.2, 4.28, 4.24, 4.38, 4.21, 4.3, 4.26, 4.19, 4.34, 4.25, 4.29, 4.22, 4.41, 4.27, 4.2, 4.33, 4.24, 4.3, 4.23,
         4.27, 4.35, 4.21, 4.3, 4.25, 4.44, 4.22, 4.29, 4.26, 4.33, 4.19, 4.31, 4.27, 4.24, 4.38, 4.22, 4.3, 4.26, 4.34, 4.21,
         4.29, 4.25, 4.37, 4.22, 4.31, 4.27, 4.2, 4.35, 4.26, 4.3, 4.23, 4.4, 4.27, 4.21, 4.33, 4.28, 4.25, 4.46, 4.24, 4.31,
         4.26, 4.34, 4.22, 4.3, 4.27, 4.38, 4.24, 4.31, 4.2, 4.35, 4.28, 4.25, 4.33, 4.22, 4.3, 4.27, 4.36, 4.24, 4.29, 3.7,
         1.85, 0.75, 0.33, 0.16, 0.08, 0.06]

blue_series = [A_blue, C_blue, E_blue, B_blue, D_blue, F_blue]
red_series = [A_red, C_red, E_red, B_red, D_red, F_red]

# ---------------- layout constants ----------------
X_END = 1027
Y_END = 5
BOX = (200, 400, 3.5, 4.5)          # zoomed window in data units
INSET = (450, 972, 0.38, 2.47)      # where the zoom is drawn
ARROW_END = (528, 2.47)
FONT = "DejaVu Sans"
TXT = "#111111"


def make_panel(k, title, blue, red):
    col = k % 3
    rw = k // 3
    fh = 241 if rw == 0 else 242
    assert len(blue) == len(data_point), (title, "blue", len(blue), len(data_point))
    assert len(red) == len(data_point), (title, "red", len(red), len(data_point))
    p = figure(frame_width=312, frame_height=fh,
               min_border_left=67, min_border_right=29 if col == 2 else 35,
               min_border_top=47, min_border_bottom=57 if rw == 0 else 42,
               x_range=Range1d(0, X_END), y_range=Range1d(0, Y_END),
               output_backend="svg", toolbar_location=None, tools="")
    p.outline_line_color = None
    p.xgrid.visible = False
    p.ygrid.visible = False
    p.background_fill_color = "white"
    p.border_fill_color = "white"

    p.title.text = title
    p.title.align = "center"
    p.title.vertical_align = "top"
    p.title.text_font = FONT
    p.title.text_font_size = "20px"
    p.title.text_font_style = "normal"
    p.title.text_color = TXT
    p.title.standoff = 20

    for ax in (p.xaxis[0], p.yaxis[0]):
        ax.axis_line_color = "black"
        ax.axis_line_width = 1
        ax.major_tick_in = 4
        ax.major_tick_out = 0
        ax.minor_tick_in = 0
        ax.minor_tick_out = 0
        ax.major_tick_line_color = "black"
        ax.major_label_text_font = FONT
        ax.major_label_text_font_size = "17px"
        ax.major_label_text_color = TXT
        ax.axis_label_text_font = FONT
        ax.axis_label_text_font_size = "20px"
        ax.axis_label_text_font_style = "normal"
        ax.axis_label_text_color = TXT
    p.xaxis[0].ticker = FixedTicker(ticks=x_ticks, minor_ticks=[])
    p.yaxis[0].ticker = FixedTicker(ticks=y_ticks, minor_ticks=[])
    p.xaxis[0].major_label_standoff = 9
    p.yaxis[0].major_label_standoff = 8
    p.xaxis[0].axis_label = "Data Point"
    p.xaxis[0].axis_label_standoff = -12
    if col == 0:
        p.yaxis[0].axis_label = "Power Signal [V]"
        p.yaxis[0].axis_label_standoff = 12

    xs = np.array(data_point)
    b = np.array(blue)
    r = np.array(red)
    bx0, bx1, by0, by1 = BOX
    ix0, ix1, iy0, iy1 = INSET

    # overview traces: the denser window samples are thinned to a similar spacing
    keep = (xs < bx0) | (xs > bx1) | (xs % 4 == 0)
    p.line(xs[keep], b[keep], line_color="blue", line_width=1.3)
    p.line(xs[keep], r[keep], line_color="red", line_width=1.3)

    # zoom window and inset frame
    p.add_layout(BoxAnnotation(left=bx0, right=bx1, bottom=by0, top=by1,
                               fill_color=None, line_color="#1a1a1a", line_alpha=1.0, line_width=1.2))
    p.add_layout(BoxAnnotation(left=ix0, right=ix1, bottom=iy0, top=iy1,
                               fill_color="white", fill_alpha=1.0, line_color=None,
                               level="underlay"))
    p.add_layout(BoxAnnotation(left=ix0, right=ix1, bottom=iy0, top=iy1,
                               fill_color=None, line_color="#1a1a1a", line_alpha=1.0, line_width=1.4))

    # inset ranges: the box window is mapped onto the inset frame
    sx = (ix1 - ix0) / (bx1 - bx0)
    sy = (iy1 - iy0) / (by1 - by0)
    p.extra_x_ranges = {"ix": Range1d(bx0 + (0 - ix0) / sx, bx0 + (X_END - ix0) / sx)}
    p.extra_y_ranges = {"iy": Range1d(by0 + (0 - iy0) / sy, by0 + (Y_END - iy0) / sy)}
    m = (xs >= bx0) & (xs <= bx1)
    p.line(xs[m], np.clip(b[m], by0, by1), x_range_name="ix", y_range_name="iy",
           line_color="blue", line_width=1.0)
    p.line(xs[m], np.clip(r[m], by0, by1), x_range_name="ix", y_range_name="iy",
           line_color="red", line_width=1.0)

    p.add_layout(Arrow(end=NormalHead(size=13, fill_color="black", line_color="black"),
                       x_start=bx1, y_start=by0, x_end=ARROW_END[0], y_end=ARROW_END[1],
                       line_color="black", line_width=2))
    return p


panels = [make_panel(k, titles[k], blue_series[k], red_series[k]) for k in range(6)]
layout = column(row(*panels[:3]), row(*panels[3:]))
open("out.html", "w").write(file_html(layout, INLINE))
